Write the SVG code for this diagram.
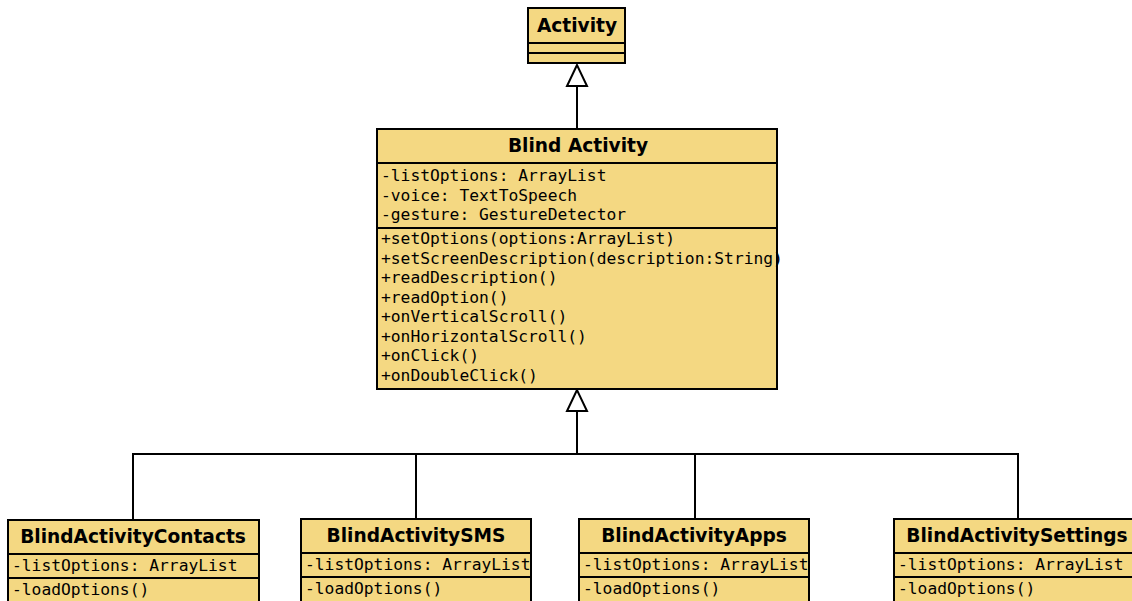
<svg xmlns="http://www.w3.org/2000/svg" width="1132" height="601" viewBox="0 0 1132 601">
  <style>
    .box { fill: #F4D882; stroke: #000; stroke-width: 2; }
    .div { stroke: #000; stroke-width: 2; fill: none; }
    .title { font-family: "DejaVu Sans", sans-serif; font-weight: bold; font-size: 18.6px; fill: #000; text-anchor: middle; }
    .mono { font-family: "DejaVu Sans Mono", monospace; font-size: 16.3px; fill: #000; }
    .edge { stroke: #000; stroke-width: 2; fill: none; }
    .tri { fill: #fff; stroke: #000; stroke-width: 2; }
  </style>
  <rect width="1132" height="601" fill="#fff"/>

  <!-- generalization connectors -->
  <g id="connectors">
    <line class="edge" x1="577" y1="86" x2="577" y2="129"/>
    <polygon class="tri" points="577,65 567,86 587,86"/>
    <polyline class="edge" points="577,411 577,454 133,454 133,520"/>
    <polyline class="edge" points="577,454 416,454 416,519"/>
    <polyline class="edge" points="577,454 695,454 695,519"/>
    <polyline class="edge" points="577,454 1018,454 1018,519"/>
    <polygon class="tri" points="577,390 567,411 587,411"/>
  </g>

  <g id="activity">
    <rect class="box" x="528" y="8" width="97" height="55"/>
    <line class="div" x1="528" y1="43" x2="625" y2="43"/>
    <line class="div" x1="528" y1="53" x2="625" y2="53"/>
    <text class="title" x="577" y="32">Activity</text>
  </g>

  <g id="blind-activity">
    <rect class="box" x="377" y="129" width="400" height="260"/>
    <line class="div" x1="377" y1="163" x2="777" y2="163"/>
    <line class="div" x1="377" y1="228" x2="777" y2="228"/>
    <text class="title" x="578" y="152">Blind Activity</text>
    <text class="mono" x="381" y="181">-listOptions: ArrayList</text>
    <text class="mono" x="381" y="200.5">-voice: TextToSpeech</text>
    <text class="mono" x="381" y="220">-gesture: GestureDetector</text>
    <text class="mono" x="381" y="244">+setOptions(options:ArrayList)</text>
    <text class="mono" x="381" y="263.5">+setScreenDescription(description:String)</text>
    <text class="mono" x="381" y="283">+readDescription()</text>
    <text class="mono" x="381" y="302.5">+readOption()</text>
    <text class="mono" x="381" y="322">+onVerticalScroll()</text>
    <text class="mono" x="381" y="341.5">+onHorizontalScroll()</text>
    <text class="mono" x="381" y="361">+onClick()</text>
    <text class="mono" x="381" y="380.5">+onDoubleClick()</text>
  </g>

  <g id="blind-activity-contacts">
    <rect class="box" x="8" y="520" width="251" height="90"/>
    <line class="div" x1="8" y1="554" x2="259" y2="554"/>
    <line class="div" x1="8" y1="578" x2="259" y2="578"/>
    <text class="title" x="133" y="543">BlindActivityContacts</text>
    <text class="mono" x="12" y="571">-listOptions: ArrayList</text>
    <text class="mono" x="12" y="595">-loadOptions()</text>
  </g>

  <g id="blind-activity-sms">
    <rect class="box" x="301" y="519" width="230" height="90"/>
    <line class="div" x1="301" y1="553" x2="531" y2="553"/>
    <line class="div" x1="301" y1="577" x2="531" y2="577"/>
    <text class="title" x="416" y="542">BlindActivitySMS</text>
    <text class="mono" x="305" y="570">-listOptions: ArrayList</text>
    <text class="mono" x="305" y="594">-loadOptions()</text>
  </g>

  <g id="blind-activity-apps">
    <rect class="box" x="579" y="519" width="230" height="90"/>
    <line class="div" x1="579" y1="553" x2="809" y2="553"/>
    <line class="div" x1="579" y1="577" x2="809" y2="577"/>
    <text class="title" x="694" y="542">BlindActivityApps</text>
    <text class="mono" x="583" y="570">-listOptions: ArrayList</text>
    <text class="mono" x="583" y="594">-loadOptions()</text>
  </g>

  <g id="blind-activity-settings">
    <rect class="box" x="894" y="519" width="250" height="90"/>
    <line class="div" x1="894" y1="553" x2="1144" y2="553"/>
    <line class="div" x1="894" y1="577" x2="1144" y2="577"/>
    <text class="title" x="1017" y="542">BlindActivitySettings</text>
    <text class="mono" x="898" y="570">-listOptions: ArrayList</text>
    <text class="mono" x="898" y="594">-loadOptions()</text>
  </g>
</svg>
